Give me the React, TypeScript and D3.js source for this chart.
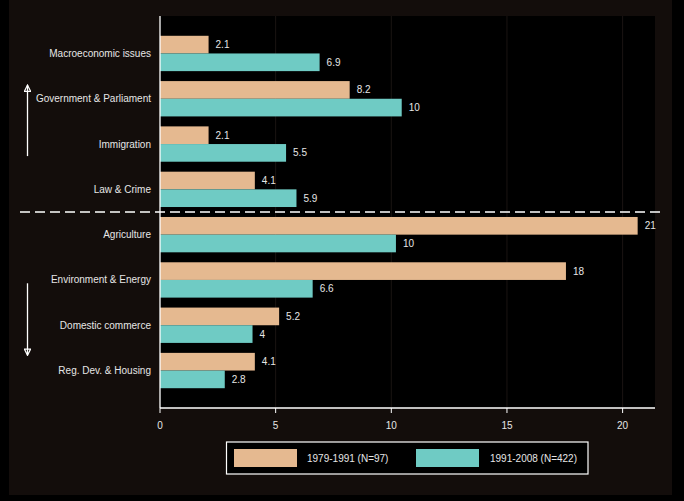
import * as d3 from "d3";

const categories = [
  "Macroeconomic issues",
  "Government & Parliament",
  "Immigration",
  "Law & Crime",
  "Agriculture",
  "Environment & Energy",
  "Domestic commerce",
  "Reg. Dev. & Housing",
];
const early = [2.1, 8.2, 2.1, 4.1, 20.65, 17.55, 5.15, 4.1];
const late = [6.9, 10.45, 5.45, 5.9, 10.2, 6.6, 4.0, 2.8];
const seriesNames = ["1979-1991 (N=97)", "1991-2008 (N=422)"];
const xTicks = [0, 5, 10, 15, 20];

const W = 684;
const H = 501;
const ORANGE = "#e5b990";
const TEAL = "#6fcbc4";
const BG = "#130d0b";
const TXT = "#e6e6e6";
const FONT = "'Liberation Sans', Arial, sans-serif";

const PL = 160;
const PR = 655;
const PT = 16;
const PB = 408;

export default function App() {
  const x = d3.scaleLinear().domain([0, 21.4]).range([PL, PR]);
  const y = d3
    .scaleBand<string>()
    .domain(categories)
    .range([PT, PB])
    .paddingInner(0.22)
    .paddingOuter(0.437);
  const bw = y.bandwidth();
  const half = bw / 2;
  const fmt = d3.format(".2~g");

  // separator between the "up" and "down" groups
  const sepY = ((y(categories[3]) as number) + bw + (y(categories[4]) as number)) / 2;

  const upTop = y(categories[1]) as number;
  const downTop = y(categories[5]) as number;

  return (
    <svg
      width={W}
      height={H}
      style={{ display: "block", position: "absolute", left: 0, top: 0, background: "#000" }}
      fontFamily={FONT}
    >
      <defs>
        <marker id="ah" viewBox="0 0 10 10" refX="9" refY="5" markerWidth="6" markerHeight="6" orient="auto">
          <path d="M1,1 L9,5 L1,9 Z" fill="none" stroke="#fff" strokeWidth={1.6} />
        </marker>
      </defs>
      <rect x={9} y={0} width={663} height={495} fill={BG} />
      <rect x={PL} y={PT} width={PR - PL} height={PB - PT} fill="#000" />

      {xTicks.slice(1).map((t) => (
        <line key={t} x1={x(t)} x2={x(t)} y1={PT} y2={PB} stroke="#1a1412" strokeWidth={1} />
      ))}

      {categories.map((c, i) => {
        const y0 = y(c) as number;
        return (
          <g key={c}>
            <rect x={x(0)} y={y0} width={x(early[i]) - x(0)} height={half} fill={ORANGE} />
            <rect x={x(0)} y={y0 + half} width={x(late[i]) - x(0)} height={half} fill={TEAL} />
            <text x={x(early[i]) + 7} y={y0 + half / 2} dy="0.35em" fontSize={10} fill={TXT}>
              {fmt(early[i])}
            </text>
            <text x={x(late[i]) + 7} y={y0 + half * 1.5} dy="0.35em" fontSize={10} fill={TXT}>
              {fmt(late[i])}
            </text>
            <text x={151} y={y0 + half} dy="0.35em" fontSize={10} fill={TXT} textAnchor="end">
              {c}
            </text>
          </g>
        );
      })}

      <line x1={20} x2={662} y1={sepY} y2={sepY} stroke="#fff" strokeWidth={1.3} strokeDasharray="10,5" />

      <line x1={PL} x2={PL} y1={PT} y2={PB} stroke="#fff" strokeWidth={1.3} />
      <line x1={PL} x2={PR} y1={PB} y2={PB} stroke="#fff" strokeWidth={1.3} />
      {xTicks.map((t) => (
        <g key={t}>
          <line x1={x(t)} x2={x(t)} y1={PB} y2={PB + 5} stroke="#fff" strokeWidth={1} />
          <text x={x(t)} y={PB + 17} dy="0.35em" fontSize={10} fill={TXT} textAnchor="middle">
            {t}
          </text>
        </g>
      ))}

      <line x1={27.5} x2={27.5} y1={upTop + 75} y2={upTop + 4} stroke="#fff" strokeWidth={1.3} markerEnd="url(#ah)" />
      <line x1={27.5} x2={27.5} y1={downTop + 21} y2={downTop + 93} stroke="#fff" strokeWidth={1.3} markerEnd="url(#ah)" />

      <rect x={226.5} y={442} width={361.5} height={32} fill="#000" stroke="#fff" strokeWidth={1.2} />
      <rect x={234} y={449} width={63} height={18} fill={ORANGE} />
      <text x={307} y={458} dy="0.35em" fontSize={10} fill={TXT}>
        {seriesNames[0]}
      </text>
      <rect x={416} y={449} width={63} height={18} fill={TEAL} />
      <text x={490} y={458} dy="0.35em" fontSize={10} fill={TXT}>
        {seriesNames[1]}
      </text>
    </svg>
  );
}
